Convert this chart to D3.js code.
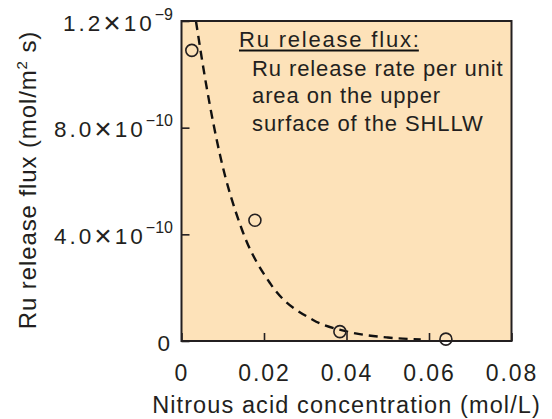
<!DOCTYPE html>
<html>
<head>
<meta charset="utf-8">
<script src="https://cdn.jsdelivr.net/npm/d3@7"></script>
<style>
  body { margin: 0; background: #fff; }
  svg { font-family: "Liberation Sans", Arial, sans-serif; fill: #231f20; }
</style>
</head>
<body>
<svg id="chart"></svg>
<script>
// measured points
var concentration = [0.0025, 0.0178, 0.0384, 0.0641];
var flux = [1.09e-9, 4.53e-10, 3.5e-11, 7e-12];

// dashed fit curve
var fitConc = [0.0035, 0.006, 0.0093, 0.0146, 0.0215, 0.0319, 0.040, 0.050, 0.058];
var fitFlux = [1.2e-9, 9.6e-10, 7.0e-10, 4.2e-10, 2.16e-10, 7.9e-11, 3.6e-11, 1.3e-11, 6e-12];

var xTicks = [0, 0.02, 0.04, 0.06, 0.08];
var xTickLabels = ["0", "0.02", "0.04", "0.06", "0.08"];
var yTicks = [0, 4e-10, 8e-10, 1.2e-9];
var yTickMantissa = ["0", "4.0", "8.0", "1.2"];
var yTickExponent = ["", "\u221210", "\u221210", "\u22129"];

var legendTitle = "Ru release flux:";
var legendLines = ["Ru release rate per unit", "area on the upper", "surface of the SHLLW"];

var width = 552, height = 419;
var plot = { left: 181.5, right: 511.5, top: 21, bottom: 341 };
var ink = "#231f20";
var font = "Liberation Sans, Arial, sans-serif";

var svg = d3.select("#chart").attr("width", width).attr("height", height);

var x = d3.scaleLinear().domain([0, 0.08]).range([plot.left, plot.right]);
var y = d3.scaleLinear().domain([0, 1.2e-9]).range([plot.bottom, plot.top]);

//background
svg.append("rect")
  .attr("x", plot.left).attr("y", plot.top)
  .attr("width", plot.right - plot.left).attr("height", plot.bottom - plot.top)
  .attr("fill", "#fde2b9");

//fit curve
var line = d3.line()
  .x(function(d){ return x(d[0]); })
  .y(function(d){ return y(d[1]); })
  .curve(d3.curveMonotoneX);

svg.append("path")
  .datum(d3.zip(fitConc, fitFlux))
  .attr("d", line)
  .attr("fill", "none")
  .attr("stroke", "#111")
  .attr("stroke-width", 2.4)
  .attr("stroke-dasharray", "9,6");

//points
svg.append("g").selectAll("circle")
  .data(d3.zip(concentration, flux))
  .enter()
  .append("circle")
  .attr("cx", function(d){ return x(d[0]); })
  .attr("cy", function(d){ return y(d[1]); })
  .attr("r", 6)
  .attr("fill", "none")
  .attr("stroke", ink)
  .attr("stroke-width", 1.6);

//X axis
var xaxis = d3.axisBottom(x).tickValues(xTicks).tickSize(-8).tickPadding(24)
  .tickFormat(function(d, i){ return xTickLabels[i]; });
var gx = svg.append("g")
  .attr("transform", "translate(0," + plot.bottom + ")")
  .call(xaxis);
gx.select(".domain").remove();
gx.selectAll("line").attr("stroke", ink).attr("stroke-width", 1.6);
gx.selectAll("text").attr("font-size", 23).attr("fill", ink)
  .attr("font-family", font).attr("letter-spacing", 2);

//Y axis
var yaxis = d3.axisLeft(y).tickValues(yTicks).tickSize(-8).tickPadding(8.5);
var gy = svg.append("g")
  .attr("transform", "translate(" + plot.left + ",0)")
  .call(yaxis);
gy.select(".domain").remove();
gy.selectAll("line").attr("stroke", ink).attr("stroke-width", 1.6);
gy.selectAll("text").each(function(d, i){
  var t = d3.select(this).text(null)
    .attr("font-size", 22.5).attr("fill", ink)
    .attr("font-family", font)
    .attr("letter-spacing", 3)
    .attr("dy", 9.3);
  t.append("tspan").text(yTickMantissa[i]);
  if (yTickExponent[i]) {
    t.append("tspan").attr("font-size", 30).attr("dy", 2).text("\u00d7");
    t.append("tspan").attr("dy", -2).text("10");
    t.append("tspan").attr("dy", -11).attr("font-size", 16).attr("letter-spacing", 0)
      .text(yTickExponent[i]);
  }
});

//frame
svg.append("rect")
  .attr("x", plot.left).attr("y", plot.top)
  .attr("width", plot.right - plot.left).attr("height", plot.bottom - plot.top)
  .attr("fill", "none").attr("stroke", ink).attr("stroke-width", 2);

//axis titles
svg.append("text")
  .attr("x", (plot.left + plot.right) / 2).attr("y", 413)
  .attr("text-anchor", "middle").attr("font-size", 23.5).attr("fill", ink)
  .attr("letter-spacing", 1.1)
  .text("Nitrous acid concentration (mol/L)");

var yt = svg.append("text")
  .attr("transform", "translate(36,180) rotate(-90)")
  .attr("text-anchor", "middle").attr("font-size", 24).attr("fill", ink)
  .attr("letter-spacing", 0.9);
yt.append("tspan").text("Ru release flux (mol/m");
yt.append("tspan").attr("dy", -9).attr("font-size", 15).text("2");
yt.append("tspan").attr("dy", 9).text(" s)");

//legend
var lt = svg.append("text")
  .attr("x", 239).attr("y", 46.5).attr("font-size", 22).attr("fill", ink)
  .attr("letter-spacing", 1.8)
  .text(legendTitle);
var lw = lt.node().getComputedTextLength();
svg.append("line")
  .attr("x1", 239).attr("x2", 239 + lw - 1.8)
  .attr("y1", 50.5).attr("y2", 50.5)
  .attr("stroke", "#111").attr("stroke-width", 2);

svg.append("g").selectAll("text")
  .data(legendLines)
  .enter()
  .append("text")
  .attr("x", 252)
  .attr("y", function(d, i){ return 76 + i * 27.3; })
  .attr("font-size", 22).attr("fill", ink)
  .attr("letter-spacing", 0.9)
  .text(function(d){ return d; });
</script>
</body>
</html>
